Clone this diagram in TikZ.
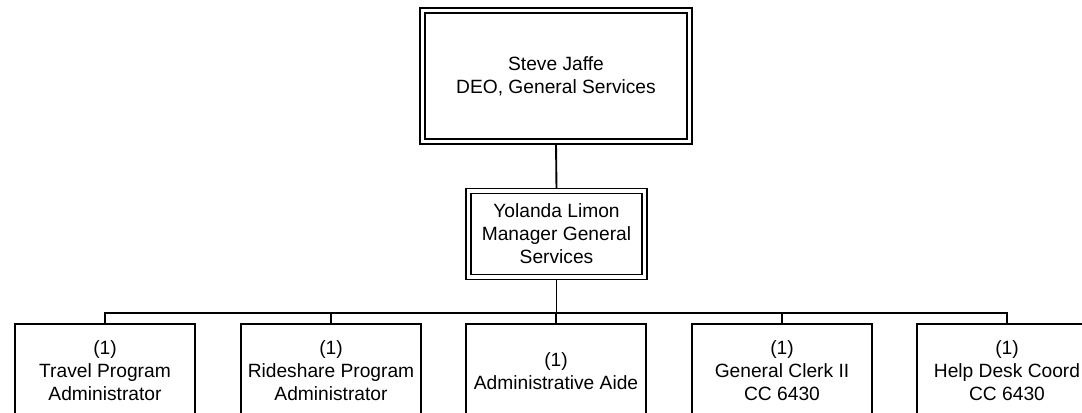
\documentclass[tikz,border=0pt]{standalone}
\usepackage{fontspec}
\setmainfont{Liberation Sans}
\usetikzlibrary{backgrounds}
\begin{document}
\begin{tikzpicture}[x=0.75pt,y=-0.75pt,
  every node/.style={font=\fontsize{14.4}{17.2}\selectfont, align=center, inner sep=0pt},
  dbox/.style={draw, double, line width=1.1pt, double distance=2.4pt, fill=white},
  sbox/.style={draw, line width=1.4pt, fill=white, minimum width={180*0.75pt}, minimum height={94*0.75pt}},
  conn/.style={line width=1.4pt}]
\clip (0,0) rectangle (1082,412);
\useasboundingbox (0,0) rectangle (1082,412);
\node[dbox, minimum width={267*0.75pt}, minimum height={131*0.75pt}] (top) at (556,76)
  {Steve Jaffe\\DEO, General Services};
\node[dbox, minimum width={176*0.75pt}, minimum height={86*0.75pt}] (mid) at (556.5,234)
  {Yolanda Limon\\Manager General\\Services};
\node[sbox] (b1) at (105,371) {(1)\\Travel Program\\Administrator};
\node[sbox] (b2) at (331,371) {(1)\\Rideshare Program\\Administrator};
\node[sbox] (b3) at (556,371) {(1)\\Administrative Aide};
\node[sbox] (b4) at (782,371) {(1)\\General Clerk II\\CC 6430};
\node[sbox] (b5) at (1007,371) {(1)\\Help Desk Coord\\CC 6430};
\coordinate (bus) at (556,313);
\begin{pgfonlayer}{background}
\draw[conn] (top.south) -- (mid.north);
\foreach \b in {b1,b2,b3,b4,b5}{
  \draw[conn] (mid.south) -- (mid.south |- bus) -| (\b.north);
}
\end{pgfonlayer}
\end{tikzpicture}
\end{document}
